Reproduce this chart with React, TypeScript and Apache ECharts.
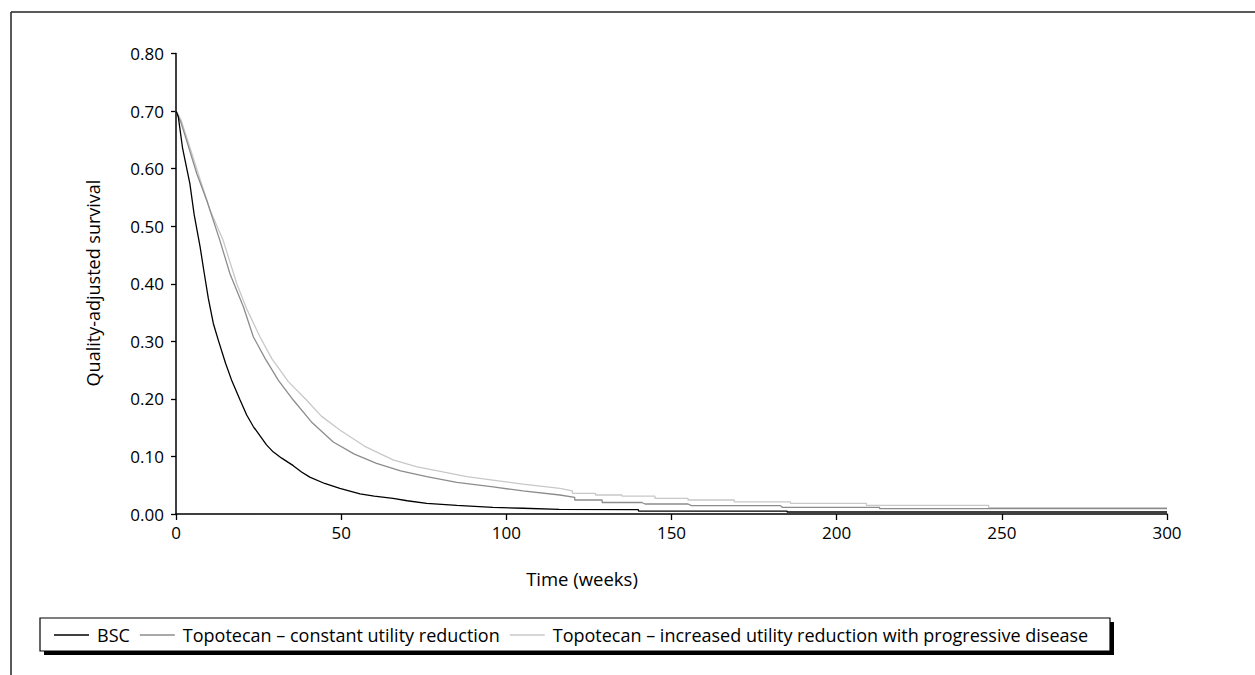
import React, { useEffect, useRef } from "react";
import * as echarts from "echarts";

const seriesNames = [
  "BSC",
  "Topotecan – constant utility reduction",
  "Topotecan – increased utility reduction with progressive disease",
];

const xTicks = [0, 50, 100, 150, 200, 250, 300];
const yTicks = [0, 0.1, 0.2, 0.3, 0.4, 0.5, 0.6, 0.7, 0.8];

const bsc: [number, number][] = [
  [0, 0.7], [0.7, 0.69], [2, 0.635], [4.2, 0.574], [5.5, 0.52], [7.3, 0.464], [8.5, 0.42],
  [9.8, 0.374], [11.3, 0.331], [12.8, 0.302], [15, 0.262], [17, 0.23], [19.4, 0.198],
  [21.4, 0.172], [23.4, 0.152], [25.4, 0.136], [27.4, 0.12], [29.4, 0.108], [32, 0.097],
  [35.5, 0.084], [38, 0.073], [40.5, 0.064], [45, 0.053], [49.6, 0.0446], [55.7, 0.035],
  [60, 0.031], [65.7, 0.027], [70, 0.023], [75.9, 0.0186], [85, 0.015], [95.9, 0.0116],
  [105, 0.01], [116, 0.008], [140, 0.0075], [140, 0.005], [185, 0.005], [185, 0.0035],
  [300, 0.0035],
];

const topoConstant: [number, number][] = [
  [0, 0.7], [1.5, 0.68], [3.2, 0.649], [6.3, 0.591], [9.3, 0.545], [13.3, 0.475],
  [16.3, 0.418], [20.4, 0.36], [23.4, 0.308], [27, 0.27], [31, 0.232], [35.5, 0.198],
  [41, 0.16], [47.6, 0.125], [54, 0.104], [60.7, 0.088], [68, 0.075], [75.9, 0.065],
  [85, 0.055], [96, 0.047], [105, 0.04], [116.2, 0.033], [120.7, 0.029], [120.7, 0.0243],
  [129, 0.0243], [129, 0.02], [141, 0.02], [142, 0.0174], [155, 0.0174], [156, 0.0145],
  [183, 0.0145], [183.5, 0.0116], [213, 0.0116], [213, 0.0095], [300, 0.0095],
];

const topoIncreased: [number, number][] = [
  [0, 0.7], [0.6, 0.695], [1.5, 0.685], [3.2, 0.655], [6.7, 0.592], [10.3, 0.528],
  [14.3, 0.475], [18.4, 0.4], [21.5, 0.355], [25.4, 0.308], [29, 0.27], [34, 0.23],
  [39.5, 0.198], [44, 0.17], [49.6, 0.146], [57, 0.118], [65.7, 0.094], [73, 0.082],
  [80.8, 0.073], [88, 0.065], [95.9, 0.059], [105, 0.052], [116.2, 0.0446], [120, 0.04],
  [120, 0.036], [127, 0.036], [127, 0.033], [135, 0.033], [135, 0.031], [145, 0.031],
  [145, 0.027], [155, 0.027], [155, 0.0243], [169, 0.0243], [169, 0.021], [186, 0.021],
  [186, 0.0186], [209, 0.0186], [209, 0.015], [246, 0.015], [246, 0.011], [300, 0.011],
];

const seriesData = [bsc, topoConstant, topoIncreased];
const seriesColors = ["#000000", "#8c8c8c", "#c8c8c8"];
const seriesWidths = [1.3, 1.3, 1.3];

const FONT = "'Open Sans'";

export default function App() {
  const ref = useRef<HTMLDivElement>(null);
  useEffect(() => {
    if (!ref.current) return;
    const chart = echarts.init(ref.current, undefined, { renderer: "svg" });
    chart.setOption({
      animation: false,
      backgroundColor: "#ffffff",
      textStyle: { fontFamily: FONT, color: "#000" },
      grid: { left: 176, top: 53.5, right: 88, bottom: 161, containLabel: false },
      xAxis: {
        type: "value",
        min: xTicks[0],
        max: xTicks[xTicks.length - 1],
        interval: xTicks[1] - xTicks[0],
        axisLine: { show: true, onZero: false, lineStyle: { color: "#000", width: 1.5 } },
        axisTick: { show: true, length: 6, lineStyle: { color: "#000", width: 1.3 } },
        axisLabel: { color: "#000", fontSize: 17, fontFamily: FONT, margin: 10 },
        splitLine: { show: false },
      },
      yAxis: {
        type: "value",
        min: yTicks[0],
        max: yTicks[yTicks.length - 1],
        interval: 0.1,
        axisLine: { show: true, lineStyle: { color: "#000", width: 1.5 } },
        axisTick: { show: true, length: 5, lineStyle: { color: "#000", width: 1.3 } },
        axisLabel: {
          color: "#000",
          fontSize: 17,
          fontFamily: FONT,
          margin: 12,
          formatter: (v: number) => v.toFixed(2),
        },
        splitLine: { show: false },
      },
      legend: {
        left: 54,
        top: 624,
        padding: 0,
        itemGap: 10,
        itemWidth: 35,
        itemHeight: 1.4,
        icon: "rect",
        data: seriesNames,
        textStyle: { fontSize: 18, fontFamily: FONT, color: "#000", padding: [0, 0, 0, 3], lineHeight: 22 },
        z: 10,
      },
      graphic: [
        { type: "line", shape: { x1: 11, y1: 12, x2: 1255, y2: 12 }, style: { stroke: "#222", lineWidth: 1.5 }, z: 1 },
        { type: "line", shape: { x1: 11, y1: 12, x2: 11, y2: 675 }, style: { stroke: "#222", lineWidth: 1.5 }, z: 1 },
        { type: "rect", shape: { x: 44, y: 622, width: 1070, height: 33 }, style: { fill: "#000" }, z: 1 },
        { type: "rect", shape: { x: 40, y: 618, width: 1070, height: 33 }, style: { fill: "#fff", stroke: "#000", lineWidth: 1.2 }, z: 2 },
        {
          type: "text",
          x: 582,
          y: 578,
          style: { text: "Time (weeks)", font: `18.5px ${FONT}`, fill: "#000", textAlign: "center", textVerticalAlign: "middle" },
          z: 3,
        },
        {
          type: "text",
          x: 93,
          y: 283,
          rotation: Math.PI / 2,
          style: { text: "Quality-adjusted survival", font: `18px ${FONT}`, fill: "#000", textAlign: "center", textVerticalAlign: "middle" },
          z: 3,
        },
      ],
      series: seriesNames.map((name, i) => ({
        name,
        type: "line",
        data: seriesData[i],
        symbol: "none",
        showSymbol: false,
        lineStyle: { color: seriesColors[i], width: seriesWidths[i] },
        itemStyle: { color: seriesColors[i] },
        z: 3 - i,
      })),
    });
    return () => chart.dispose();
  }, []);
  return <div ref={ref} style={{ position: "fixed", left: 0, top: 0, width: 1255, height: 675 }} />;
}
